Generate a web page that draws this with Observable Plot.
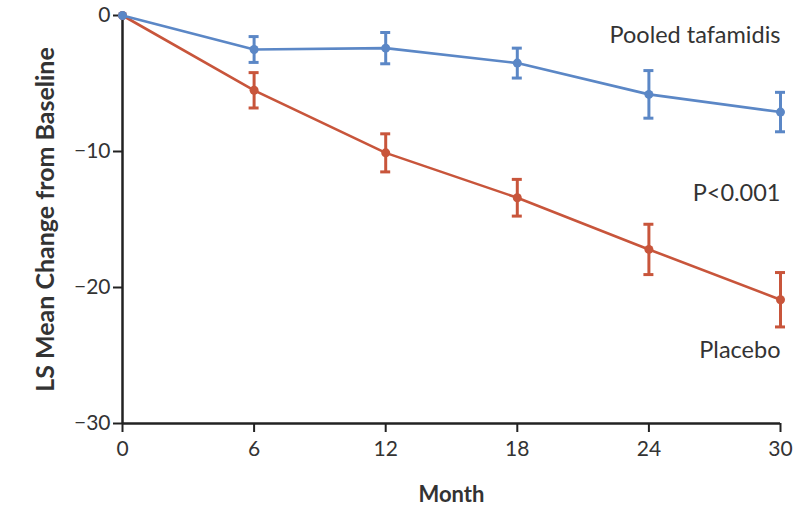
<!DOCTYPE html>
<html>
<head>
<meta charset="utf-8">
<script src="https://cdn.jsdelivr.net/npm/d3@7"></script>
<script src="https://cdn.jsdelivr.net/npm/@observablehq/plot@0.6"></script>
<style>
  html, body { margin: 0; padding: 0; background: #fff; }
  #chart { width: 808px; height: 507px; }
</style>
</head>
<body>
<div id="chart"></div>
<script>
const months = [0, 6, 12, 18, 24, 30];
const tafamidisMean = [0, -2.5, -2.4, -3.5, -5.8, -7.1];
const tafamidisErr = [0, 0.95, 1.15, 1.1, 1.75, 1.45];
const placeboMean = [0, -5.5, -10.1, -13.4, -17.2, -20.9];
const placeboErr = [0, 1.3, 1.4, 1.35, 1.85, 2.0];
const xTicks = [0, 6, 12, 18, 24, 30];
const yTicks = [0, -10, -20, -30];
const labelText = ["Pooled tafamidis", "P<0.001", "Placebo"];
const labelY = [-1.5, -13.1, -24.6];

const blue = "#5b87c6";
const red = "#c8553b";
const ink = "#333";

function rows(group, means, errs) {
  return months.map((m, i) => ({group, month: m, mean: means[i], lo: means[i] - errs[i], hi: means[i] + errs[i], err: errs[i]}));
}
const taf = rows("Pooled tafamidis", tafamidisMean, tafamidisErr);
const pla = rows("Placebo", placeboMean, placeboErr);
const tafE = taf.filter(d => d.err > 0);
const plaE = pla.filter(d => d.err > 0);
const labels = labelText.map((t, i) => ({text: t, month: 30, y: labelY[i]}));

const font = "Lato, 'Open Sans', sans-serif";

const plot = Plot.plot({
  width: 808,
  height: 507,
  marginLeft: 122,
  marginRight: 28,
  marginTop: 15,
  marginBottom: 84,
  style: {fontFamily: font, fontSize: "21px", color: ink, background: "#fff"},
  x: {domain: [0, 30], label: null},
  y: {domain: [-30, 0], label: null},
  marks: [
    Plot.axisX({ticks: xTicks, tickSize: 9, tickPadding: 9, stroke: "#222", strokeWidth: 2, fill: ink, fontSize: 21, label: null}),
    Plot.axisY({ticks: yTicks, tickSize: 9, tickPadding: 3, stroke: "#222", strokeWidth: 2, fill: ink, fontSize: 21, label: null}),
    Plot.ruleX([0], {stroke: "#222", strokeWidth: 2.5}),
    Plot.ruleY([-30], {stroke: "#222", strokeWidth: 2.5}),
    // placebo
    Plot.line(pla, {x: "month", y: "mean", stroke: red, strokeWidth: 2.6}),
    Plot.ruleX(plaE, {x: "month", y1: "lo", y2: "hi", stroke: red, strokeWidth: 3}),
    Plot.ruleY(plaE, {x1: "month", x2: "month", y: "lo", stroke: red, strokeWidth: 3, insetLeft: -5, insetRight: -5}),
    Plot.ruleY(plaE, {x1: "month", x2: "month", y: "hi", stroke: red, strokeWidth: 3, insetLeft: -5, insetRight: -5}),
    Plot.dot(pla, {x: "month", y: "mean", r: 4.5, fill: red}),
    // tafamidis
    Plot.line(taf, {x: "month", y: "mean", stroke: blue, strokeWidth: 2.6}),
    Plot.ruleX(tafE, {x: "month", y1: "lo", y2: "hi", stroke: blue, strokeWidth: 3}),
    Plot.ruleY(tafE, {x1: "month", x2: "month", y: "lo", stroke: blue, strokeWidth: 3, insetLeft: -5, insetRight: -5}),
    Plot.ruleY(tafE, {x1: "month", x2: "month", y: "hi", stroke: blue, strokeWidth: 3, insetLeft: -5, insetRight: -5}),
    Plot.dot(taf, {x: "month", y: "mean", r: 4.5, fill: blue}),
    // annotations
    Plot.text(labels, {x: "month", y: "y", text: "text", textAnchor: "end", fill: ink, fontSize: 23.5, fontFamily: font}),
    // axis titles
    Plot.text(["Month"], {frameAnchor: "bottom", dy: 78, text: d => d, fontWeight: "bold", fontSize: 22, fill: ink, fontFamily: font}),
    Plot.text(["LS Mean Change from Baseline"], {frameAnchor: "left", textAnchor: "middle", dx: -77, rotate: -90, text: d => d, fontWeight: "bold", fontSize: 25, fill: ink, fontFamily: font})
  ]
});
document.getElementById("chart").appendChild(plot);
</script>
</body>
</html>
